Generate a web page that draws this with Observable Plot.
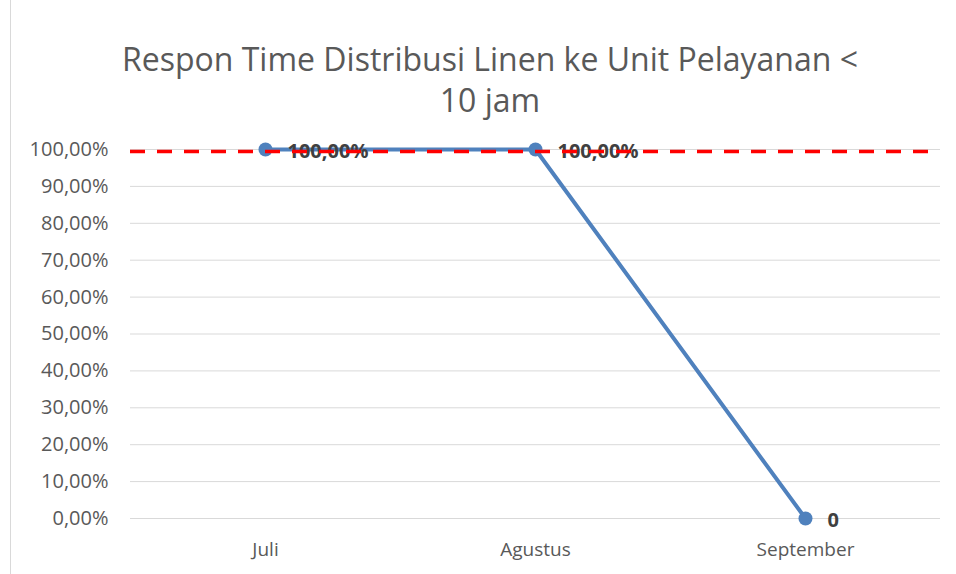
<!DOCTYPE html>
<html>
<head>
<meta charset="utf-8">
<script src="https://cdn.jsdelivr.net/npm/d3@7"></script>
<script src="https://cdn.jsdelivr.net/npm/@observablehq/plot@0.6"></script>
<style>
  html, body { margin: 0; padding: 0; background: #fff; }
  #wrap { position: relative; width: 956px; height: 574px; overflow: hidden; font-family: "Open Sans", sans-serif; }
  #frame { position: absolute; left: 10px; top: 0; width: 1px; height: 574px; background: #d9d9d9; }
  #title { position: absolute; left: 0; top: 38px; width: 980px; text-align: center; color: #595959; font-size: 32px; line-height: 41px; }
  #chart { position: absolute; left: 0; top: 120px; }
</style>
</head>
<body>
<div id="wrap">
  <div id="frame"></div>
  <div id="title">Respon Time Distribusi Linen ke Unit Pelayanan &lt;<br>10 jam</div>
  <div id="chart"></div>
</div>
<script>
const months = ["Juli", "Agustus", "September"];
const values = [1, 1, 0];
const valueLabels = ["100,00%", "100,00%", "0"];
const targetValue = 1;
const yTicks = [0, 0.1, 0.2, 0.3, 0.4, 0.5, 0.6, 0.7, 0.8, 0.9, 1];

const data = months.map((m, i) => ({month: m, value: values[i], label: valueLabels[i]}));
const pct = d => (d * 100).toFixed(2).replace(".", ",") + "%";

const chart = Plot.plot({
  width: 956,
  height: 454,
  marginTop: 29,
  marginBottom: 56,
  marginLeft: 130,
  marginRight: 16,
  style: {fontFamily: "Open Sans, sans-serif", background: "transparent", overflow: "visible"},
  x: {type: "point", domain: months, padding: 0.5, label: null},
  y: {domain: [0, 1], label: null},
  marks: [
    Plot.gridY(yTicks, {stroke: "#d9d9d9", strokeOpacity: 1, strokeWidth: 1}),
    Plot.axisY(yTicks, {tickSize: 0, tickPadding: 22, tickFormat: pct, fontSize: 20, fill: "#595959", label: null}),
    Plot.axisX({tickSize: 0, tickPadding: 24, fontSize: 19, fill: "#595959", label: null}),
    Plot.line(data, {x: "month", y: "value", stroke: "#4f81bd", strokeWidth: 4}),
    Plot.dot(data, {x: "month", y: "value", r: 7, fill: "#4f81bd", stroke: "none"}),
    Plot.text(data, {x: "month", y: "value", text: "label", textAnchor: "start", dx: 22, dy: 2, fontSize: 20, fontWeight: "bold", fill: "#404040"}),
    Plot.ruleY([targetValue], {stroke: "#ff0000", strokeWidth: 3.5, strokeDasharray: "15,12", dy: 2})
  ]
});
document.getElementById("chart").appendChild(chart);
</script>
</body>
</html>
